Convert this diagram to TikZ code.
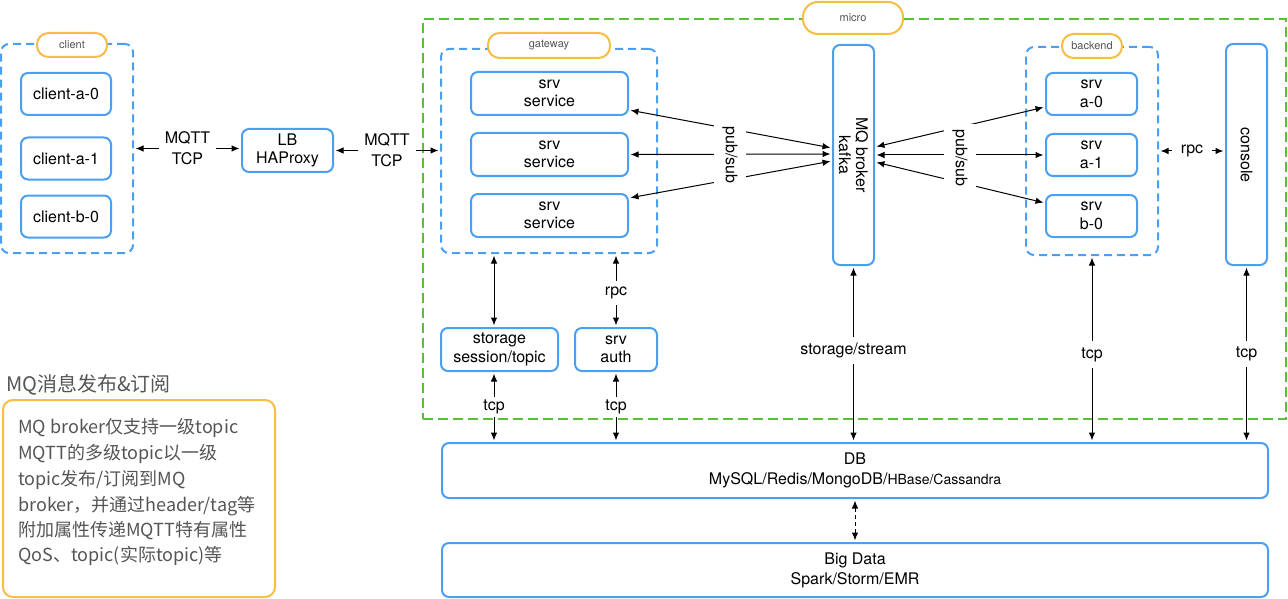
\documentclass[tikz,border=0pt]{standalone}
\usepackage{fontspec}
\setmainfont{TeX Gyre Heros}
\newfontfamily\cjk{Noto Sans CJK SC}
\usetikzlibrary{arrows.meta,calc}
\definecolor{bblue}{HTML}{4A9FF0}
\definecolor{oorange}{HTML}{F8BD45}
\definecolor{ggreen}{HTML}{5BBE38}
\definecolor{tgray}{HTML}{555555}
\begin{document}
\begin{tikzpicture}[x=1pt,y=-1pt,
  box/.style={draw=bblue, line width=2pt, rounded corners=7pt, align=center,
    font=\fontsize{16}{18.5}\selectfont, inner sep=0pt},
  grp/.style={draw=bblue, line width=2pt, dash pattern=on 8pt off 5pt,
    rounded corners=8pt, inner sep=0pt},
  pill/.style={draw=oorange, line width=2pt, fill=white, rounded corners=11.5pt,
    font=\fontsize{11}{12}\selectfont, text=tgray, inner sep=0pt},
  lbl/.style={fill=white, align=center, font=\fontsize{16}{21}\selectfont, inner sep=6pt},
  conn/.style={line width=1pt, shorten <=1.5pt, shorten >=1.5pt,
    {Latex[length=8pt,width=6.5pt]}-{Latex[length=8pt,width=6.5pt]}},
]
\useasboundingbox (0,0) rectangle (1288,599);

% micro container
\node[draw=ggreen, line width=2pt, dash pattern=on 10pt off 5pt, inner sep=0pt,
  minimum width=863, minimum height=400] (micro) at (854.5,219) {};
\node[pill, rounded corners=15pt, minimum width=100, minimum height=32] (microlbl) at (853,18) {micro};

% groups
\node[grp, minimum width=132, minimum height=209] (clientgrp) at (67,148.5) {};
\node[pill, minimum width=70, minimum height=24] (clientlbl) at (72,45) {client};
\node[grp, minimum width=216, minimum height=204] (gwgrp) at (549,151) {};
\node[pill, minimum width=122, minimum height=25] (gwlbl) at (549,45.5) {gateway};
\node[grp, minimum width=132, minimum height=208] (begrp) at (1092,151) {};
\node[pill, minimum width=60, minimum height=24] (belbl) at (1092,46) {backend};

% client boxes
\node[box, minimum width=90, minimum height=42] (ca0) at (66,94) {client-a-0};
\node[box, minimum width=90, minimum height=42] (ca1) at (66,158.5) {client-a-1};
\node[box, minimum width=90, minimum height=42] (cb0) at (66,216.5) {client-b-0};
\node[box, minimum width=91, minimum height=43] (lb) at (287.5,150.5) {LB\\HAProxy};

% gateway services
\node[box, minimum width=157, minimum height=43] (s1) at (549.5,93.5) {srv\\service};
\node[box, minimum width=157, minimum height=43] (s2) at (549.5,154.5) {srv\\service};
\node[box, minimum width=157, minimum height=43] (s3) at (549.5,215.5) {srv\\service};

% broker
\node[box, minimum width=41, minimum height=220] (broker) at (853.5,155) {};
\node[rotate=-90, align=center, font=\fontsize{16}{17}\selectfont, inner sep=0pt] (brokertxt) at (853.5,155) {MQ broker\\kafka};

% backend services
\node[box, minimum width=91, minimum height=42] (a0) at (1091.5,94) {srv\\a-0};
\node[box, minimum width=91, minimum height=42] (a1) at (1091.5,155) {srv\\a-1};
\node[box, minimum width=91, minimum height=42] (b0) at (1091.5,216) {srv\\b-0};

% console
\node[box, minimum width=41, minimum height=221] (console) at (1246.5,154.5) {};
\node[rotate=-90, font=\fontsize{16}{18}\selectfont, inner sep=0pt] (consoletxt) at (1246.5,155) {console};

% storage & auth
\node[box, minimum width=117, minimum height=43] (stor) at (499.5,349.5) {storage\\session/topic};
\node[box, minimum width=82, minimum height=43] (auth) at (616,349.5) {srv\\auth};

% DB and Big Data
\node[box, minimum width=826, minimum height=55, font=\fontsize{16}{20}\selectfont] (db) at (855,470.5)
  {DB\\MySQL/Redis/MongoDB/{\fontsize{14}{20}\selectfont HBase/Cassandra}};
\node[box, minimum width=826, minimum height=54, font=\fontsize{16}{20}\selectfont] (bigdata) at (855,570)
  {Big Data\\Spark/Storm/EMR};

% note
\node[anchor=west, inner sep=0pt, text=tgray, font=\cjk\fontsize{20}{23}\selectfont] (title) at (6,385) {MQ消息发布\&订阅};
\node[draw=oorange, line width=2pt, rounded corners=10pt, inner sep=0pt,
  minimum width=272, minimum height=197] (note) at (139,498.5) {};
\begin{scope}[every node/.style={anchor=west, inner sep=0pt, text=tgray, font=\cjk\fontsize{18}{21}\selectfont}]
\node (n1) at (18,428) {MQ broker仅支持一级topic};
\node (n2) at (18,454) {MQTT的多级topic以一级};
\node (n3) at (18,480) {topic发布/订阅到MQ};
\node (n4) at (18,506) {broker，并通过header/tag等};
\node (n5) at (18,531) {附加属性传递MQTT特有属性};
\node (n6) at (18,556) {QoS、topic(实际topic)等};
\end{scope}

% coordinates
\coordinate (stx) at ([xshift=-5.5pt]stor.north);

% connectors
\draw[conn] (clientgrp.east) -- (clientgrp.east -| lb.west) node[lbl, midway] (l1) {MQTT\\TCP};
\draw[conn] (lb.east) -- (lb.east -| gwgrp.west) node[lbl, midway] (l2) {MQTT\\TCP};

\draw[conn] ([yshift=-16.5pt]s1.east) -- ([yshift=7pt]broker.west);
\draw[conn] (s2.east) -- ([yshift=1pt]broker.west);
\draw[conn] ([yshift=17.5pt]s3.east) -- ([yshift=-6pt]broker.west);
\node[lbl, rotate=-90, inner xsep=6pt, inner ysep=8pt] (ps1) at (730,155) {pub/sub};

\draw[conn] ([yshift=8pt]broker.east) -- ([yshift=-13pt]a0.west);
\draw[conn] (broker.east) -- (a1.west);
\draw[conn] ([yshift=-7pt]broker.east) -- ([yshift=13pt]b0.west);
\node[lbl, rotate=-90, inner xsep=6pt, inner ysep=8pt] (ps2) at (960,158) {pub/sub};

\draw[conn] (begrp.east) -- (begrp.east -| console.west) node[lbl, midway, inner xsep=9pt] (rpc2) {rpc};

\draw[conn] (stx |- gwgrp.south) -- (stx);
\draw[conn] (auth.north |- gwgrp.south) -- (auth.north) node[lbl, pos=0.53, inner xsep=3pt] (rpc1) {rpc};
\draw[conn] (stx |- stor.south) -- (stx |- db.north) node[lbl, midway, inner ysep=3pt] (tcp1) {tcp};
\draw[conn] (auth.south) -- (auth.south |- db.north) node[lbl, midway, inner ysep=3pt] (tcp2) {tcp};
\draw[conn] (broker.south) -- (broker.south |- db.north) node[lbl, pos=0.48] (ss) {storage/stream};
\draw[conn] (begrp.south) -- (begrp.south |- db.north) node[lbl, pos=0.53] (tcp3) {tcp};
\draw[conn] (console.south) -- (console.south |- db.north) node[lbl, pos=0.5] (tcp4) {tcp};
\draw[conn, dash pattern=on 4pt off 3pt] (db.south) -- (bigdata.north);
\end{tikzpicture}
\end{document}
